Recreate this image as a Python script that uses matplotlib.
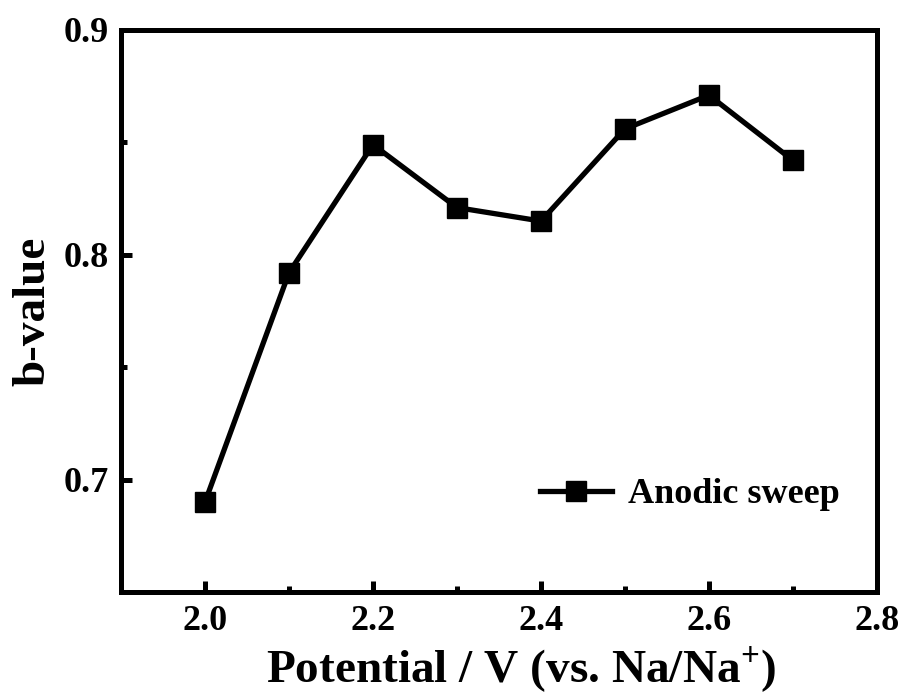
# libraries
import matplotlib
matplotlib.use('Agg')
import matplotlib.pyplot as plt
from matplotlib.ticker import MultipleLocator

# dataset
potential = [2.0, 2.1, 2.2, 2.3, 2.4, 2.5, 2.6, 2.7]
b_value = [0.690, 0.792, 0.849, 0.821, 0.815, 0.856, 0.871, 0.842]
series_label = 'Anodic sweep'

plt.rcParams['font.family'] = 'Liberation Serif'
plt.rcParams['font.weight'] = 'bold'
plt.rcParams['mathtext.fontset'] = 'custom'
plt.rcParams['mathtext.rm'] = 'Liberation Serif:bold'
plt.rcParams['mathtext.bf'] = 'Liberation Serif:bold'

fig = plt.figure(figsize=(9.05, 6.97), dpi=100)
ax = fig.add_axes([0.1337, 0.1506, 0.8353, 0.8064])

ax.plot(potential, b_value, color='black', linewidth=3.8, marker='s',
        markersize=14.5, label=series_label)

ax.set_xlim(1.9, 2.8)
ax.set_ylim(0.65, 0.9)
ax.xaxis.set_minor_locator(MultipleLocator(0.1))
ax.yaxis.set_minor_locator(MultipleLocator(0.05))
ax.set_xticks([2.0, 2.2, 2.4, 2.6, 2.8])
ax.set_yticks([0.7, 0.8, 0.9])

for s in ax.spines.values():
    s.set_linewidth(3.6)
ax.tick_params(which='major', direction='in', length=8, width=3.6,
               labelsize=26, pad=9)
ax.tick_params(which='minor', direction='in', length=4, width=3.6)
for lbl in ax.get_xticklabels() + ax.get_yticklabels():
    lbl.set_fontweight('bold')

ax.set_xlabel(r'Potential / V (vs. Na/Na$^{+}$)', fontsize=34,
              fontweight='bold', labelpad=5)
ax.xaxis.label.set_x(0.529)  # label sits a bit right of centre in the original
ax.set_ylabel('b-value', fontsize=34, fontweight='bold', labelpad=6)

ax.legend(loc='center right', bbox_to_anchor=(0.994, 0.173), frameon=False,
          handlelength=2.0, handletextpad=0.45,
          prop={'weight': 'bold', 'size': 26})

fig.savefig('out.png', dpi=100)
